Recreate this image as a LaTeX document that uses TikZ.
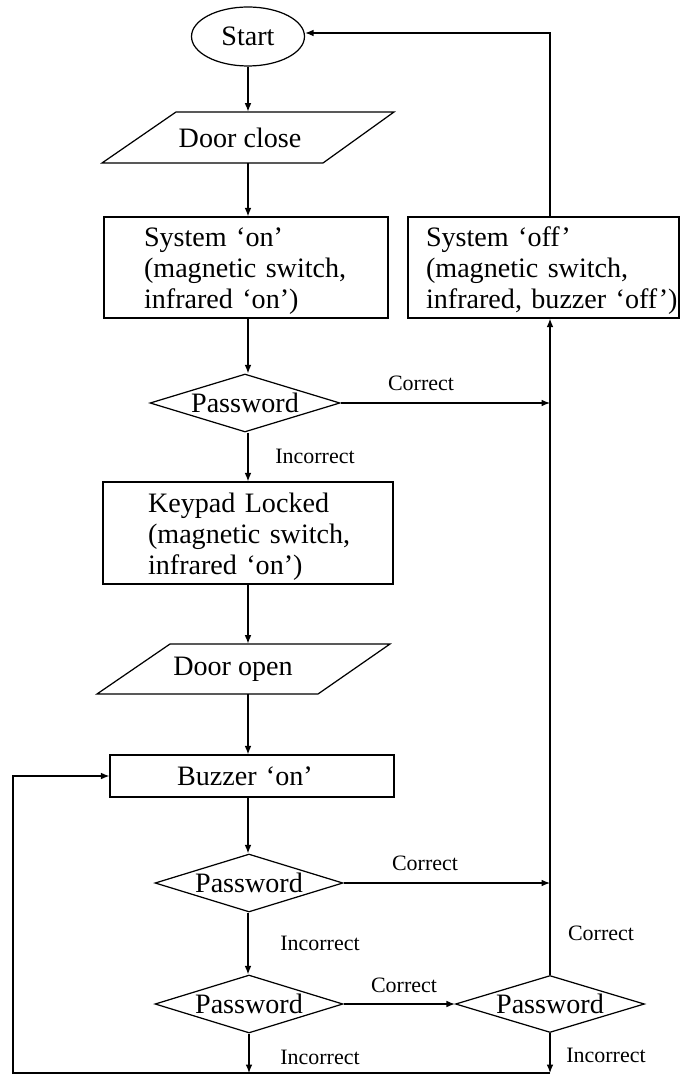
\documentclass[tikz,border=0pt]{standalone}
\usepackage{fontspec}
\setmainfont{Liberation Serif}
\usetikzlibrary{arrows.meta,shapes.geometric}
\newcommand{\mainsize}{\fontsize{16pt}{17.6pt}\selectfont}
\newcommand{\labsize}{\fontsize{12.5pt}{14pt}\selectfont}
\newcommand{\topgap}{\rule{0pt}{15pt}}
\tikzset{
	flowline/.style={line width=0.7pt},
	flowarrow/.style={line width=0.7pt, -{Latex[length=4.8pt,width=3.8pt]}},
	startnode/.style={ellipse, draw, line width=0.7pt, inner sep=0pt, font=\mainsize},
	boxnode/.style={rectangle, draw, line width=0.7pt, inner sep=0pt, font=\mainsize, align=left},
	ionode/.style={rectangle, inner sep=0pt, font=\mainsize},
	decision/.style={diamond, draw, line width=0.7pt, inner sep=0pt, shape aspect=3.3, font=\mainsize},
	branchlabel/.style={font=\labsize, inner sep=0pt},
}

\begin{document}
\begin{tikzpicture}[x=0.02cm, y=-0.02cm]
			%%%%% START %%%%%
			
			\useasboundingbox (0,0) rectangle (681,1074);
			\coordinate (col) at (248,0);
			\coordinate (rcol) at (550,0);
			\coordinate (bot) at (13,1073);
			
			\node[startnode, minimum width=2.26cm, minimum height=1.18cm] (start) at (248,36.5) {Start};
			
			\node[ionode, minimum width=4.2cm, minimum height=1.02cm] (doorc) at (240,137.5) {Door close};
			\draw[flowline] (102,163) -- (176,112) -- (394,112) -- (323,163) -- cycle;
			
			\node[boxnode, minimum width=5.68cm, minimum height=2.02cm, text width=4.08cm] (syson) at (246,267.5) {\topgap System ‘on’\\\mbox{(magnetic switch,}\\infrared ‘on’)};
			\node[boxnode, minimum width=5.42cm, minimum height=2.02cm, text width=4.7cm] (sysoff) at (543.5,267.5) {\topgap System ‘off’\\\mbox{(magnetic switch,}\\\mbox{infrared, buzzer ‘off’)}};
			
			\node[decision, minimum width=3.8cm, minimum height=1.16cm] (pw1) at (245,403) {Password};
			
			\node[boxnode, minimum width=5.8cm, minimum height=2.04cm, text width=4cm] (keypad) at (248,533) {\topgap Keypad Locked\\\mbox{(magnetic switch,}\\infrared ‘on’)};
			
			\node[ionode, minimum width=4.2cm, minimum height=1.0cm] (dooro) at (233,669) {Door open};
			\draw[flowline] (97,694) -- (170,644) -- (390,644) -- (318,694) -- cycle;
			
			\node[boxnode, minimum width=5.68cm, minimum height=0.84cm, text width=3cm] (buzzer) at (252,776) {Buzzer ‘on’};
			
			\node[decision, minimum width=3.76cm, minimum height=1.16cm] (pw2) at (249,883) {Password};
			\node[decision, minimum width=3.76cm, minimum height=1.16cm] (pw3) at (249,1004) {Password};
			\node[decision, minimum width=3.78cm, minimum height=1.14cm] (pw4) at (550,1004) {Password};
			
			% main column
			\draw[flowarrow] (start.south -| col) -- (doorc.north -| col);
			\draw[flowarrow] (doorc.south -| col) -- (syson.north -| col);
			\draw[flowarrow] (syson.south -| col) -- (pw1.north -| col);
			\draw[flowarrow] (pw1.south -| col) -- (keypad.north -| col);
			\draw[flowarrow] (keypad.south -| col) -- (dooro.north -| col);
			\draw[flowarrow] (dooro.south -| col) -- (buzzer.north -| col);
			\draw[flowarrow] (buzzer.south -| col) -- (pw2.north -| col);
			\draw[flowarrow] (pw2.south -| col) -- (pw3.north -| col);
			
			% right column
			\draw[flowarrow] (pw1.east) -- (pw1.east -| rcol);
			\draw[flowarrow] (pw2.east) -- (pw2.east -| rcol);
			\draw[flowarrow] (pw3.east) -- (pw4.west);
			\draw[flowarrow] (pw4.north) -- (pw4.north |- sysoff.south);
			\draw[flowarrow] (pw4.north |- sysoff.north) |- ([yshift=0.07cm]start.east);
			
			% loop back
			\draw[flowarrow] (pw3.south) -- (pw3.south |- bot);
			\draw[flowarrow] (pw4.south) -- (pw4.south |- bot);
			\draw[flowarrow] (pw4.south |- bot) -- (bot) |- (buzzer.west);
			
			\node[branchlabel] (cor1) at (421,383) {Correct};
			\node[branchlabel] (inc1) at (315,456) {Incorrect};
			\node[branchlabel] (cor2) at (425,863) {Correct};
			\node[branchlabel] (inc2) at (320,943) {Incorrect};
			\node[branchlabel] (cor3) at (404,985) {Correct};
			\node[branchlabel] (cor4) at (601,933) {Correct};
			\node[branchlabel] (inc3) at (320,1057) {Incorrect};
			\node[branchlabel] (inc4) at (606,1055) {Incorrect};
			
			%%%%% END %%%%%
\end{tikzpicture}
\end{document}
